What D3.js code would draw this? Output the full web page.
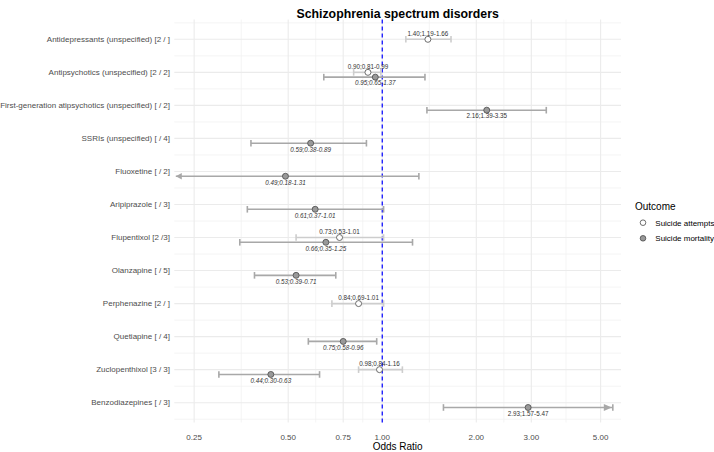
<!DOCTYPE html>
<html>
<head>
<meta charset="utf-8">
<script src="https://cdn.jsdelivr.net/npm/d3@7"></script>
<style>
  body { margin: 0; background: #fff; }
  svg { display: block; font-family: "Liberation Sans", Arial, sans-serif; }
</style>
</head>
<body>
<div id="chart"></div>
<script>
// Categories, top to bottom
const categories = [
    "Antidepressants (unspecified) [2 / ]",
    "Antipsychotics (unspecified) [2 / 2]",
    "First-generation atipsychotics (unspecified) [ / 2]",
    "SSRIs (unspecified) [ / 4]",
    "Fluoxetine [ / 2]",
    "Aripiprazole [ / 3]",
    "Flupentixol [2 /3]",
    "Olanzapine [ / 5]",
    "Perphenazine [2 / ]",
    "Quetiapine [ / 4]",
    "Zuclopenthixol [3 / 3]",
    "Benzodiazepines [ / 3]"
];

// Suicide attempts (null = not reported)
const attemptOR = [1.40, 0.90, null, null, null, null, 0.73, null, 0.84, null, 0.98, null];
const attemptLo = [1.19, 0.81, null, null, null, null, 0.53, null, 0.69, null, 0.84, null];
const attemptHi = [1.66, 0.99, null, null, null, null, 1.01, null, 1.01, null, 1.16, null];

// Suicide mortality
const mortalityOR = [null, 0.95, 2.16, 0.59, 0.49, 0.61, 0.66, 0.53, null, 0.75, 0.44, 2.93];
const mortalityLo = [null, 0.65, 1.39, 0.38, 0.18, 0.37, 0.35, 0.39, null, 0.58, 0.30, 1.57];
const mortalityHi = [null, 1.37, 3.35, 0.89, 1.31, 1.01, 1.25, 0.71, null, 0.96, 0.63, 5.47];

const outcomes = ["Suicide attempts", "Suicide mortality"];
const xTicks = [0.25, 0.50, 0.75, 1.00, 2.00, 3.00, 5.00];
const xLimits = [0.216, 5.81];

const width = 714, height = 452;
const panel = {left: 174.3, right: 621, top: 19.5, bottom: 422.5};
const fmt = d3.format(".2f");

const svg = d3.select("#chart").append("svg")
    .attr("width", width)
    .attr("height", height);

const x = d3.scaleLog().domain(xLimits).range([panel.left, panel.right]);
const y = d3.scalePoint().domain(categories).range([panel.top, panel.bottom]).padding(0.6);
const step = y.step();

// Build rows for both outcomes
const rows = [];
categories.forEach((c, i) => {
    if (attemptOR[i] != null) rows.push({cat: c, kind: 0, or: attemptOR[i], lo: attemptLo[i], hi: attemptHi[i]});
    if (mortalityOR[i] != null) rows.push({cat: c, kind: 1, or: mortalityOR[i], lo: mortalityLo[i], hi: mortalityHi[i]});
});
const yPos = d => y(d.cat) + (d.kind === 1 ? 4.8 : 0);

const style = {
    fill: ["#ffffff", "#999999"],
    bar: ["#cdcdcd", "#a8a8a8"]
};

// Grid
const grid = svg.append("g");
const minorX = d3.pairs(xTicks).map(([a, b]) => Math.sqrt(a * b));
grid.selectAll(".vminor").data(minorX).join("line")
    .attr("x1", d => x(d)).attr("x2", d => x(d))
    .attr("y1", panel.top).attr("y2", panel.bottom)
    .attr("stroke", "#f1f1f1").attr("stroke-width", 0.8);
const minorY = d3.range(categories.length + 1).map(i => y(categories[0]) - step / 2 + i * step);
grid.selectAll(".hminor").data(minorY).join("line")
    .attr("x1", panel.left).attr("x2", panel.right)
    .attr("y1", d => d).attr("y2", d => d)
    .attr("stroke", "#f1f1f1").attr("stroke-width", 0.8);
grid.selectAll(".vmajor").data(xTicks).join("line")
    .attr("x1", d => x(d)).attr("x2", d => x(d))
    .attr("y1", panel.top).attr("y2", panel.bottom)
    .attr("stroke", "#ebebeb").attr("stroke-width", 1.1);
grid.selectAll(".hmajor").data(categories).join("line")
    .attr("x1", panel.left).attr("x2", panel.right)
    .attr("y1", d => y(d)).attr("y2", d => y(d))
    .attr("stroke", "#ebebeb").attr("stroke-width", 1.1);

// Reference line at OR = 1
svg.append("line")
    .attr("x1", x(1)).attr("x2", x(1))
    .attr("y1", panel.top).attr("y2", panel.bottom)
    .attr("stroke", "#0000ff").attr("stroke-width", 1.2)
    .attr("stroke-dasharray", "4,3");

// Error bars
const bars = svg.append("g");
rows.forEach(d => {
    const yy = yPos(d);
    const col = style.bar[d.kind];
    const clipLo = d.lo < xLimits[0];
    const arrowHi = d.hi > xTicks[xTicks.length - 1];
    const x0 = clipLo ? x(xLimits[0]) + 1.5 : x(d.lo);
    const x1 = x(d.hi);
    bars.append("line")
        .attr("x1", x0).attr("x2", x1).attr("y1", yy).attr("y2", yy)
        .attr("stroke", col).attr("stroke-width", 1.6);
    // caps
    if (!clipLo) {
        bars.append("line").attr("x1", x0).attr("x2", x0)
            .attr("y1", yy - 3.3).attr("y2", yy + 3.3)
            .attr("stroke", col).attr("stroke-width", 1.6);
    } else {
        bars.append("path")
            .attr("d", `M${x0},${yy}L${x0 + 6},${yy - 3.3}L${x0 + 6},${yy + 3.3}Z`)
            .attr("fill", col);
    }
    bars.append("line").attr("x1", x1).attr("x2", x1)
        .attr("y1", yy - 3.3).attr("y2", yy + 3.3)
        .attr("stroke", col).attr("stroke-width", 1.6);
    if (arrowHi) {
        bars.append("path")
            .attr("d", `M${x1 - 1},${yy}L${x1 - 9},${yy - 3.6}L${x1 - 9},${yy + 3.6}Z`)
            .attr("fill", col);
    }
});

// Points
svg.append("g").selectAll("circle").data(rows).join("circle")
    .attr("cx", d => x(d.or))
    .attr("cy", d => yPos(d))
    .attr("r", 3)
    .attr("fill", d => style.fill[d.kind])
    .attr("stroke", "#4a4a4a")
    .attr("stroke-width", 0.8);

// Estimate labels
svg.append("g").selectAll("text").data(rows).join("text")
    .attr("x", d => x(d.or))
    .attr("y", d => d.kind === 0 ? yPos(d) - 3.6 : yPos(d) + 8.3)
    .attr("text-anchor", "middle")
    .attr("font-size", 6.3)
    .attr("font-style", d => d.kind === 1 && d.or < 1 ? "italic" : "normal")
    .attr("fill", "#333")
    .text(d => `${fmt(d.or)};${fmt(d.lo)}-${fmt(d.hi)}`);

// Y labels
svg.append("g").selectAll("text").data(categories).join("text")
    .attr("x", 170)
    .attr("y", d => y(d))
    .attr("dy", "0.35em")
    .attr("text-anchor", "end")
    .attr("font-size", 8)
    .attr("fill", "#4d4d4d")
    .text(d => d);

// X axis labels
svg.append("g").selectAll("text").data(xTicks).join("text")
    .attr("x", d => x(d))
    .attr("y", 439.5)
    .attr("text-anchor", "middle")
    .attr("font-size", 8)
    .attr("fill", "#4d4d4d")
    .text(d => fmt(d));

const midX = (panel.left + panel.right) / 2;
svg.append("text")
    .attr("x", midX).attr("y", 450)
    .attr("text-anchor", "middle")
    .attr("font-size", 10)
    .attr("fill", "#000")
    .text("Odds Ratio");

svg.append("text")
    .attr("x", midX).attr("y", 17.5)
    .attr("text-anchor", "middle")
    .attr("font-size", 12.3)
    .attr("font-weight", "bold")
    .attr("fill", "#000")
    .text("Schizophrenia spectrum disorders");

// Legend
const legend = svg.append("g").attr("transform", "translate(635,0)");
legend.append("text")
    .attr("x", 0).attr("y", 210)
    .attr("font-size", 10)
    .attr("fill", "#000")
    .text("Outcome");
outcomes.forEach((o, i) => {
    const ly = 222.7 + i * 15.6;
    legend.append("circle")
        .attr("cx", 8).attr("cy", ly).attr("r", 2.8)
        .attr("fill", style.fill[i])
        .attr("stroke", "#4a4a4a").attr("stroke-width", 0.8);
    legend.append("text")
        .attr("x", 20.3).attr("y", ly).attr("dy", "0.35em")
        .attr("font-size", 8)
        .attr("fill", "#000")
        .text(o);
});
</script>
</body>
</html>
